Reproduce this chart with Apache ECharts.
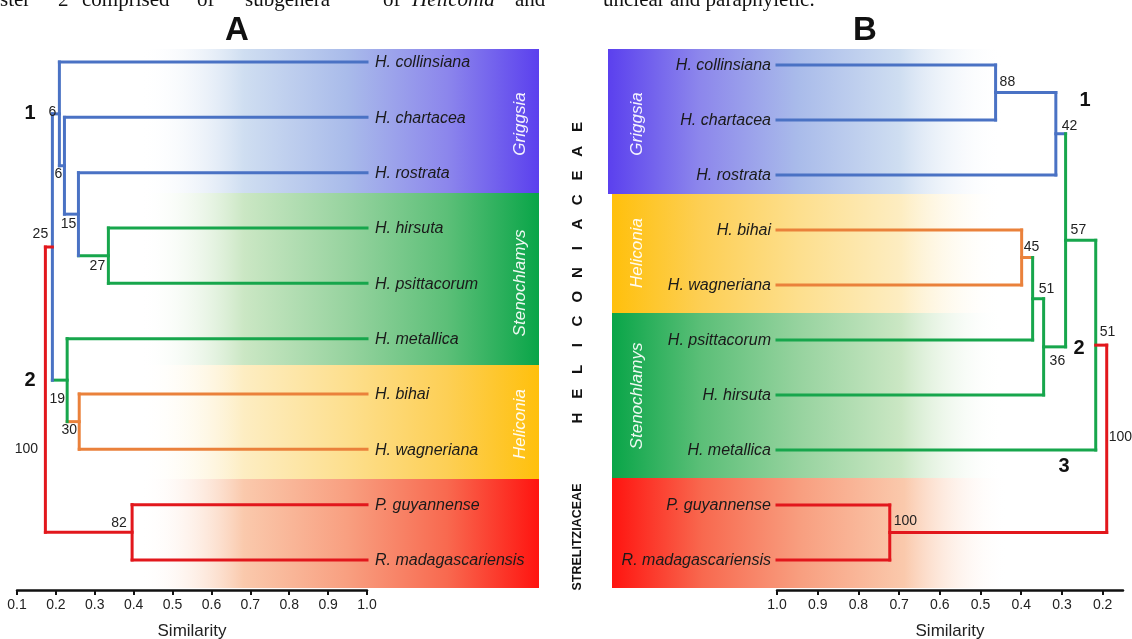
<!DOCTYPE html>
<html>
<head>
<meta charset="utf-8">
<title>Heliconiaceae dendrograms</title>
<script src="https://cdn.jsdelivr.net/npm/echarts@6/dist/echarts.min.js"></script>
<style>
  html, body { margin: 0; padding: 0; background: #fff; }
  #chart { width: 1132px; height: 639px; }
</style>
</head>
<body>
<div id="chart"></div>
<script>
// ---- data: panel A (leaves top to bottom) ----
const leavesA = ['H. collinsiana', 'H. chartacea', 'H. rostrata', 'H. hirsuta', 'H. psittacorum',
  'H. metallica', 'H. bihai', 'H. wagneriana', 'P. guyannense', 'R. madagascariensis'];
const cladeA = ['Griggsia', 'Griggsia', 'Griggsia', 'Stenochlamys', 'Stenochlamys',
  'Stenochlamys', 'Heliconia', 'Heliconia', 'Strelitziaceae', 'Strelitziaceae'];
// [child, child, similarity, support, clade] - children < 10 are leaves, >= 10 earlier merges
const mergesA = [
  [3, 4, 0.335, 27, 'Stenochlamys'],
  [2, 10, 0.258, 15, 'Griggsia'],
  [1, 11, 0.222, 6, 'Griggsia'],
  [0, 12, 0.209, 6, 'Griggsia'],
  [6, 7, 0.260, 30, 'Heliconia'],
  [5, 14, 0.229, 19, 'Stenochlamys'],
  [13, 15, 0.191, 25, 'Griggsia'],
  [8, 9, 0.396, 82, 'Strelitziaceae'],
  [16, 17, 0.173, 100, 'Strelitziaceae']
];
const ticksA = [0.1, 0.2, 0.3, 0.4, 0.5, 0.6, 0.7, 0.8, 0.9, 1.0];

// ---- data: panel B ----
const leavesB = ['H. collinsiana', 'H. chartacea', 'H. rostrata', 'H. bihai', 'H. wagneriana',
  'H. psittacorum', 'H. hirsuta', 'H. metallica', 'P. guyannense', 'R. madagascariensis'];
const cladeB = ['Griggsia', 'Griggsia', 'Griggsia', 'Heliconia', 'Heliconia',
  'Stenochlamys', 'Stenochlamys', 'Stenochlamys', 'Strelitziaceae', 'Strelitziaceae'];
const mergesB = [
  [0, 1, 0.463, 88, 'Griggsia'],
  [10, 2, 0.315, 42, 'Griggsia'],
  [3, 4, 0.399, 45, 'Heliconia'],
  [12, 5, 0.372, 51, 'Stenochlamys'],
  [13, 6, 0.345, 36, 'Stenochlamys'],
  [11, 14, 0.291, 57, 'Stenochlamys'],
  [15, 7, 0.217, 51, 'Stenochlamys'],
  [8, 9, 0.723, 100, 'Strelitziaceae'],
  [16, 17, 0.190, 100, 'Strelitziaceae']
];
const ticksB = [1.0, 0.9, 0.8, 0.7, 0.6, 0.5, 0.4, 0.3, 0.2];

// ---- layout / styles ----
const lineColor = {
  Griggsia: '#4a72c4', Stenochlamys: '#17a64c', Heliconia: '#ea813b', Strelitziaceae: '#e2171c'
};
// gradient colours, strong end first
const bandColor = {
  Griggsia: ['#5b40ee', '#8c86ec', '#a9bbea', '#cfdef1'],
  Stenochlamys: ['#09a548', '#5cbf78', '#97d39f', '#cbe7c4'],
  Heliconia: ['#ffc00c', '#fdcf55', '#fddf8e', '#fdedc2'],
  Strelitziaceae: ['#ff1410', '#f8694f', '#f89f80', '#fac9ac']
};
// pixel offsets of the support values from their node
const labelOffA = [[-11, 10], [-10, 10], [-6, 8], [-7, -2], [-10, 9], [-10, 19], [-12, -13], [-13, -9], [-19, 59]];
const labelOffB = [[4, -10], [6, -8], [2, -10], [6, -10], [6, 14], [5, -10], [4, -13], [4, -11], [2, -2]];

const FONT = "'Liberation Sans', Arial, sans-serif";

function buildTree(clade, merges) {
  const n = clade.length;
  const pos = clade.map((c, i) => ({ x: 1.0, y: i, c: c }));
  const parent = [];
  merges.forEach((m, k) => {
    pos[n + k] = { x: m[2], y: (pos[m[0]].y + pos[m[1]].y) / 2, c: m[4], support: m[3] };
    parent[m[0]] = n + k;
    parent[m[1]] = n + k;
  });
  const root = n + merges.length - 1;
  const segs = [];
  pos.forEach((p, i) => {
    if (i >= n) {
      const m = merges[i - n];
      segs.push([p.x, pos[m[0]].y, p.x, pos[m[1]].y, p.c]);
    }
    if (i !== root) {
      const par = pos[parent[i]];
      segs.push([p.x, p.y, par.x, p.y, parent[i] === root ? par.c : p.c]);
    }
  });
  return { pos: pos, segs: segs, nodes: pos.slice(n) };
}

const treeA = buildTree(cladeA, mergesA);
const treeB = buildTree(cladeB, mergesB);

function segSeries(tree, idx) {
  return {
    type: 'custom', xAxisIndex: idx, yAxisIndex: idx, silent: true, z: 3,
    data: tree.segs.map(s => [s[0], s[1], s[2], s[3]]),
    renderItem: (params, api) => {
      const s = tree.segs[params.dataIndex];
      const p1 = api.coord([s[0], s[1]]);
      const p2 = api.coord([s[2], s[3]]);
      return {
        type: 'line',
        shape: { x1: p1[0], y1: p1[1], x2: p2[0], y2: p2[1] },
        style: { stroke: lineColor[s[4]], lineWidth: 3, lineCap: 'square' }
      };
    }
  };
}

function supportSeries(tree, idx, offs, align) {
  return {
    type: 'custom', xAxisIndex: idx, yAxisIndex: idx, silent: true, z: 4,
    data: tree.nodes.map(p => [p.x, p.y]),
    renderItem: (params, api) => {
      const p = api.coord([api.value(0), api.value(1)]);
      const o = offs[params.dataIndex];
      return {
        type: 'text', x: p[0] + o[0], y: p[1] + o[1],
        style: {
          text: String(tree.nodes[params.dataIndex].support), fill: '#222',
          font: '14px ' + FONT, align: align, verticalAlign: 'middle'
        }
      };
    }
  };
}

function leafSeries(leaves, idx, dx, align) {
  return {
    type: 'custom', xAxisIndex: idx, yAxisIndex: idx, silent: true, z: 4,
    data: leaves.map((l, i) => [1.0, i]),
    renderItem: (params, api) => {
      const p = api.coord([api.value(0), api.value(1)]);
      return {
        type: 'text', x: p[0] + dx, y: p[1] + 1,
        style: {
          text: leaves[params.dataIndex], fill: '#1a1a1a',
          font: 'italic 16px ' + FONT, align: align, verticalAlign: 'middle'
        }
      };
    }
  };
}

function band(x, y, w, h, clade, strongLeft) {
  const c = bandColor[clade];
  const stops = [[0, c[0]], [0.23, c[1]], [0.48, c[2]], [0.74, c[3]], [1, 'rgba(255,255,255,0)']];
  return {
    type: 'rect', z: -1, silent: true,
    shape: { x: x, y: y, width: w, height: h },
    style: {
      fill: {
        type: 'linear', x: 0, y: 0, x2: 1, y2: 0,
        colorStops: stops.map(s => ({ offset: strongLeft ? s[0] : 1 - s[0], color: s[1] }))
      }
    }
  };
}

function txt(text, x, y, font, opts) {
  return Object.assign({
    type: 'text', x: x, y: y, z: 10, silent: true,
    style: Object.assign({ text: text, font: font, fill: '#111', align: 'center', verticalAlign: 'middle' },
      (opts && opts.style) || {})
  }, opts && opts.rotation ? { rotation: opts.rotation } : {});
}

const ROT = Math.PI / 2;
const graphics = [
  // panel A bands
  band(140, 49, 399, 144, 'Griggsia', false),
  band(140, 193, 399, 172, 'Stenochlamys', false),
  band(140, 365, 399, 114, 'Heliconia', false),
  band(140, 479, 399, 109, 'Strelitziaceae', false),
  // panel B bands
  band(608, 49, 395, 145, 'Griggsia', true),
  band(612, 194, 391, 119, 'Heliconia', true),
  band(612, 313, 391, 165, 'Stenochlamys', true),
  band(612, 478, 395, 110, 'Strelitziaceae', true),
  // subgenus names
  txt('Griggsia', 520, 124, 'italic 17px ' + FONT, { rotation: ROT, style: { fill: 'rgba(255,255,255,0.93)' } }),
  txt('Stenochlamys', 520, 283, 'italic 17px ' + FONT, { rotation: ROT, style: { fill: 'rgba(255,255,255,0.93)' } }),
  txt('Heliconia', 520, 424, 'italic 17px ' + FONT, { rotation: ROT, style: { fill: 'rgba(255,255,255,0.93)' } }),
  txt('Griggsia', 637, 124, 'italic 17px ' + FONT, { rotation: ROT, style: { fill: 'rgba(255,255,255,0.93)' } }),
  txt('Heliconia', 637, 253, 'italic 17px ' + FONT, { rotation: ROT, style: { fill: 'rgba(255,255,255,0.93)' } }),
  txt('Stenochlamys', 637, 396, 'italic 17px ' + FONT, { rotation: ROT, style: { fill: 'rgba(255,255,255,0.93)' } }),
  // titles
  txt('A', 237, 31, 'bold 33px ' + FONT),
  txt('B', 865, 31, 'bold 33px ' + FONT),
  // cluster numbers
  txt('1', 30, 113, 'bold 20px ' + FONT),
  txt('2', 30, 380, 'bold 20px ' + FONT),
  txt('1', 1085, 100, 'bold 20px ' + FONT),
  txt('2', 1079, 348, 'bold 20px ' + FONT),
  txt('3', 1064, 466, 'bold 20px ' + FONT),
  // family
  txt('STRELITZIACEAE', 578, 537, 'bold 12.5px ' + FONT, { rotation: ROT })
];
'HELICONIACEAE'.split('').forEach((ch, i) => {
  graphics.push(txt(ch, 578, 418 - i * 24.25, 'bold 15px ' + FONT, { rotation: ROT }));
});
// running text of the page, cut by the top edge
[['ster', 0], ['2', 58], ['comprised', 82], ['of', 197], ['subgenera', 245], ['of', 383], ['and', 515]]
  .forEach(w => graphics.push(txt(w[0], w[1], 0, "21px 'Liberation Serif', serif", { style: { align: 'left' } })));
graphics.push(txt('Heliconia', 412, 0, "italic 21px 'Liberation Serif', serif", { style: { align: 'left' } }));
graphics.push(txt('unclear and paraphyletic.', 603, 0, "21px 'Liberation Serif', serif", { style: { align: 'left' } }));

function xAxisCfg(idx, extra) {
  return Object.assign({
    gridIndex: idx, type: 'value', position: 'bottom', splitLine: { show: false },
    axisLine: { onZero: false, lineStyle: { color: '#111', width: 2.5 } },
    axisTick: { length: 5, lineStyle: { color: '#111', width: 2 } },
    axisLabel: { formatter: v => v.toFixed(1), fontSize: 14, color: '#222', margin: 8, fontFamily: FONT },
    name: 'Similarity', nameLocation: 'middle', nameGap: 33,
    nameTextStyle: { fontSize: 17, color: '#222', fontFamily: FONT }
  }, extra);
}

const chart = echarts.init(document.getElementById('chart'));
chart.setOption({
  animation: false,
  backgroundColor: '#fff',
  grid: [
    { left: 17, width: 350, top: 48, height: 542, outerBoundsMode: 'none' },
    { left: 777, width: 346, top: 48, height: 542, outerBoundsMode: 'none' }
  ],
  xAxis: [
    xAxisCfg(0, { min: 0.1, max: 1.0, interval: 0.1 }),
    xAxisCfg(1, {
      min: 0.15, max: 1.0, inverse: true,
      axisTick: { length: 5, lineStyle: { color: '#111', width: 2 }, customValues: ticksB },
      axisLabel: { formatter: v => v.toFixed(1), fontSize: 14, color: '#222', margin: 8, fontFamily: FONT, customValues: ticksB }
    })
  ],
  yAxis: [
    { gridIndex: 0, type: 'value', inverse: true, min: -0.253, max: 9.543, show: false },
    { gridIndex: 1, type: 'value', inverse: true, min: -0.309, max: 9.546, show: false }
  ],
  graphic: { elements: graphics },
  series: [
    segSeries(treeA, 0),
    segSeries(treeB, 1),
    supportSeries(treeA, 0, labelOffA, 'center'),
    supportSeries(treeB, 1, labelOffB, 'left'),
    leafSeries(leavesA, 0, 8, 'left'),
    leafSeries(leavesB, 1, -6, 'right')
  ]
});
</script>
</body>
</html>
